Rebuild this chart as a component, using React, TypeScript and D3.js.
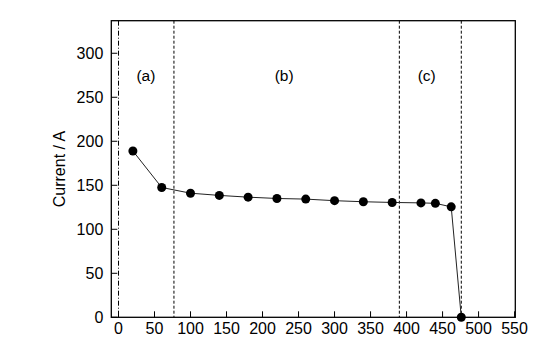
import React from "react";
import * as d3 from "d3";

const timeValues = [20, 60, 100, 140, 180, 220, 260, 300, 340, 380, 420, 440, 462, 476];
const currentValues = [189, 147.5, 141, 138.5, 136.5, 135, 134.3, 132.5, 131.3, 130.5, 130, 129.5, 125.5, 0];
const xTicks = [0, 50, 100, 150, 200, 250, 300, 350, 400, 450, 500, 550];
const yTicks = [0, 50, 100, 150, 200, 250, 300];
const regionBounds = [0, 77, 390, 476];
const regionLabels = ["(a)", "(b)", "(c)"];
const regionLabelX = [38, 230, 428];

export default function App() {
  const W = 547, H = 355;
  const left = 111.3, right = 515.3, top = 20.7, bottom = 317.3;
  const x = d3.scaleLinear().domain([-10, 551]).range([left, right]);
  const y = d3.scaleLinear().domain([0, 337]).range([bottom, top]);
  const line = d3.line<number>().x((d, i) => x(timeValues[i])).y((d) => y(d));
  const font = "'Liberation Sans', Arial, sans-serif";
  return (
    <svg width={W} height={H} style={{ position: "absolute", left: 0, top: 0, background: "#fff" }} fontFamily={font}>
      <rect x={0} y={0} width={W} height={H} fill="#fff" />
      {regionBounds.map((b, i) => (
        <line key={"r" + i} x1={x(b)} x2={x(b)} y1={top} y2={bottom} stroke="#000" strokeWidth={1}
          strokeDasharray={i === 0 ? "5,2,1,2" : "3,2"} />
      ))}
      {regionLabels.map((t, i) => (
        <text key={"l" + i} x={x(regionLabelX[i])} y={y(275)} textAnchor="middle" dominantBaseline="central" fontSize={15.5}>{t}</text>
      ))}
      <path d={line(currentValues) || ""} fill="none" stroke="#222" strokeWidth={1} />
      {currentValues.map((v, i) => (
        <circle key={"c" + i} cx={x(timeValues[i])} cy={y(v)} r={4.5} fill="#000" />
      ))}
      <rect x={left} y={top} width={right - left} height={bottom - top} fill="none" stroke="#000" strokeWidth={1.3} />
      {xTicks.map((t) => (
        <g key={"x" + t}>
          <line x1={x(t)} x2={x(t)} y1={bottom} y2={bottom - 6} stroke="#000" strokeWidth={1} />
          <text x={x(t)} y={bottom + 16.5} textAnchor="middle" fontSize={16}>{t}</text>
        </g>
      ))}
      {yTicks.map((t) => (
        <g key={"y" + t}>
          <line x1={left} x2={left + 6} y1={y(t)} y2={y(t)} stroke="#000" strokeWidth={1} />
          <text x={left - 8} y={y(t)} textAnchor="end" dominantBaseline="central" fontSize={16}>{t}</text>
        </g>
      ))}
      <text transform={`translate(65,${(top + bottom) / 2}) rotate(-90)`} textAnchor="middle" fontSize={16}>Current / A</text>
    </svg>
  );
}
